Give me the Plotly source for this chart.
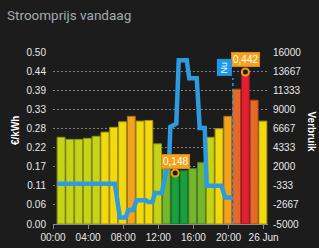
import plotly.graph_objects as go

# ---- data ----
HOURS = list(range(24))
PRICES = [0.252, 0.246, 0.246, 0.249, 0.255, 0.267, 0.281, 0.297, 0.313, 0.299,
          0.301, 0.233, 0.165, 0.148, 0.155, 0.161, 0.179, 0.252, 0.277, 0.313,
          0.392, 0.442, 0.360, 0.299]

LINE_TIMES = [0.49, 7.05, 7.62, 8.30, 8.57, 9.14, 9.52, 10.58, 10.84, 11.34,
              11.60, 12.40, 13.25, 13.37, 14.05, 14.33, 15.24, 15.53, 16.38,
              16.72, 17.29, 17.52, 19.19, 19.62, 20.42]
LINE_VALUES = [-100, -100, -4200, -4200, -3300, -3300, -2100, -2100, -2300, -2300,
               -1220, -1220, 3100, 6850, 7250, 15000, 15000, 12800, 12800,
               6720, 6720, -340, -340, -1750, -1750]

NOW_HOUR = 20.5

X_TICKS = [0, 4, 8, 12, 16, 20, 24]
X_TICK_TEXT = ["00:00", "04:00", "08:00", "12:00", "16:00", "20:00", "26 Jun"]
Y_TICK_TEXT = ["0.00", "0.06", "0.11", "0.17", "0.22", "0.28", "0.33", "0.39", "0.44", "0.50"]
Y2_TICK_TEXT = ["-5000", "-2667", "-333", "2000", "4333", "6667", "9000", "11333", "13667", "16000"]

# ---- styles ----
BG = "#1c1c1c"
BLUE = "#2e9be0"
ORANGE = "#f5a11a"
BAR_OFFSET = 0.92
W, H = 319, 248
ML, MR, MT, MB = 53, 51, 52, 24
PW, PH = W - ML - MR, H - MT - MB
TICK_FONT = dict(family="Liberation Sans, Arial, sans-serif", size=10, color="#e8e8e8")


def bar_color(v):
    if v < 0.158:
        return "#17a03d"
    if v < 0.2:
        return "#74b62d"
    if v < 0.26:
        return "#c5d419"
    if v < 0.305:
        return "#f2d90f"
    if v < 0.35:
        return "#efa31f"
    if v < 0.41:
        return "#e6692a"
    return "#e01f30"


def darker(hexc, f=0.7):
    r, g, b = int(hexc[1:3], 16), int(hexc[3:5], 16), int(hexc[5:7], 16)
    return "rgb(%d,%d,%d)" % (r * f, g * f, b * f)


def px_x(px):
    return (px - ML) / PW


def px_y(py):
    return (H - MB - py) / PH


colors = [bar_color(v) for v in PRICES]
bar_x = [h + BAR_OFFSET for h in HOURS]

fig = go.Figure()
fig.add_trace(go.Bar(
    x=bar_x, y=PRICES, width=0.9,
    marker=dict(color=colors, line=dict(color=[darker(c) for c in colors], width=1)),
    yaxis="y", hoverinfo="skip"))
fig.add_trace(go.Scatter(
    x=LINE_TIMES, y=LINE_VALUES, yaxis="y2", mode="lines",
    line=dict(color=BLUE, width=4.5), hoverinfo="skip"))

i_min = PRICES.index(min(PRICES))
i_max = PRICES.index(max(PRICES))
ext_x = [bar_x[i_min], bar_x[i_max]]
ext_y = [PRICES[i_min], PRICES[i_max]]
fig.add_trace(go.Scatter(
    x=ext_x, y=ext_y, yaxis="y", mode="markers",
    marker=dict(size=7, color=BG, line=dict(color="#f39c12", width=2)),
    hoverinfo="skip"))

annotations = []
for xv, yv in zip(ext_x, ext_y):
    annotations.append(dict(
        x=xv, y=yv, xref="x", yref="y", yshift=12, showarrow=False,
        text=("%.3f" % yv).replace(".", ","),
        font=dict(family="Liberation Sans, Arial, sans-serif", size=10, color="white"),
        bgcolor=ORANGE, bordercolor="#d98a10", borderwidth=1, borderpad=1))

annotations.append(dict(
    x=NOW_HOUR, y=px_y(67), xref="x", yref="paper", xshift=-8.5, yanchor="middle",
    showarrow=False, text="Nu", textangle=-90,
    font=dict(family="Liberation Sans, Arial, sans-serif", size=9, color="white"),
    bgcolor="#1f96e6", borderpad=2))

annotations.append(dict(
    x=px_x(15), y=px_y(131), xref="paper", yref="paper", xanchor="center", yanchor="middle",
    showarrow=False, text="<b>€/kWh</b>", textangle=-90,
    font=dict(family="Liberation Sans, Arial, sans-serif", size=10, color="white")))
annotations.append(dict(
    x=px_x(311.5), y=px_y(131), xref="paper", yref="paper", xanchor="center", yanchor="middle",
    showarrow=False, text="<b>Verbruik</b>", textangle=90,
    font=dict(family="Liberation Sans, Arial, sans-serif", size=10, color="white")))

shapes = [dict(type="line", xref="x", yref="paper", x0=NOW_HOUR, x1=NOW_HOUR,
               y0=0, y1=px_y(78), line=dict(color=BLUE, width=1.5, dash="dot"))]

fig.update_layout(
    width=W, height=H,
    margin=dict(l=ML, r=MR, t=MT, b=MB, autoexpand=False),
    paper_bgcolor=BG, plot_bgcolor=BG,
    showlegend=False,
    title=dict(text="Stroomprijs vandaag", x=7 / W, xanchor="left", xref="container",
               y=1 - 15 / H, yanchor="middle", yref="container",
               font=dict(family="Roboto, sans-serif", size=13.5, color="#a3abb0")),
    xaxis=dict(range=[0, 24.5], tickvals=X_TICKS, ticktext=X_TICK_TEXT,
               showgrid=False, zeroline=False, showline=True, linecolor="#8a8a8a",
               ticks="outside", ticklen=4, tickcolor="#8a8a8a", tickfont=TICK_FONT),
    yaxis=dict(range=[0, 0.5], tickvals=[i * 0.5 / 9 for i in range(10)], ticktext=Y_TICK_TEXT,
               showgrid=True, gridcolor="#808080", griddash="2px,2px", gridwidth=1,
               zeroline=False, ticks="", tickfont=TICK_FONT, ticklabelstandoff=6),
    yaxis2=dict(range=[-5000, 16000], overlaying="y", side="right",
                tickvals=[-5000 + i * 21000 / 9 for i in range(10)], ticktext=Y2_TICK_TEXT,
                showgrid=False, zeroline=False, ticks="", tickfont=TICK_FONT,
                ticklabelstandoff=4),
    annotations=annotations, shapes=shapes,
)

fig.write_html("out.html", config={"displayModeBar": False})
